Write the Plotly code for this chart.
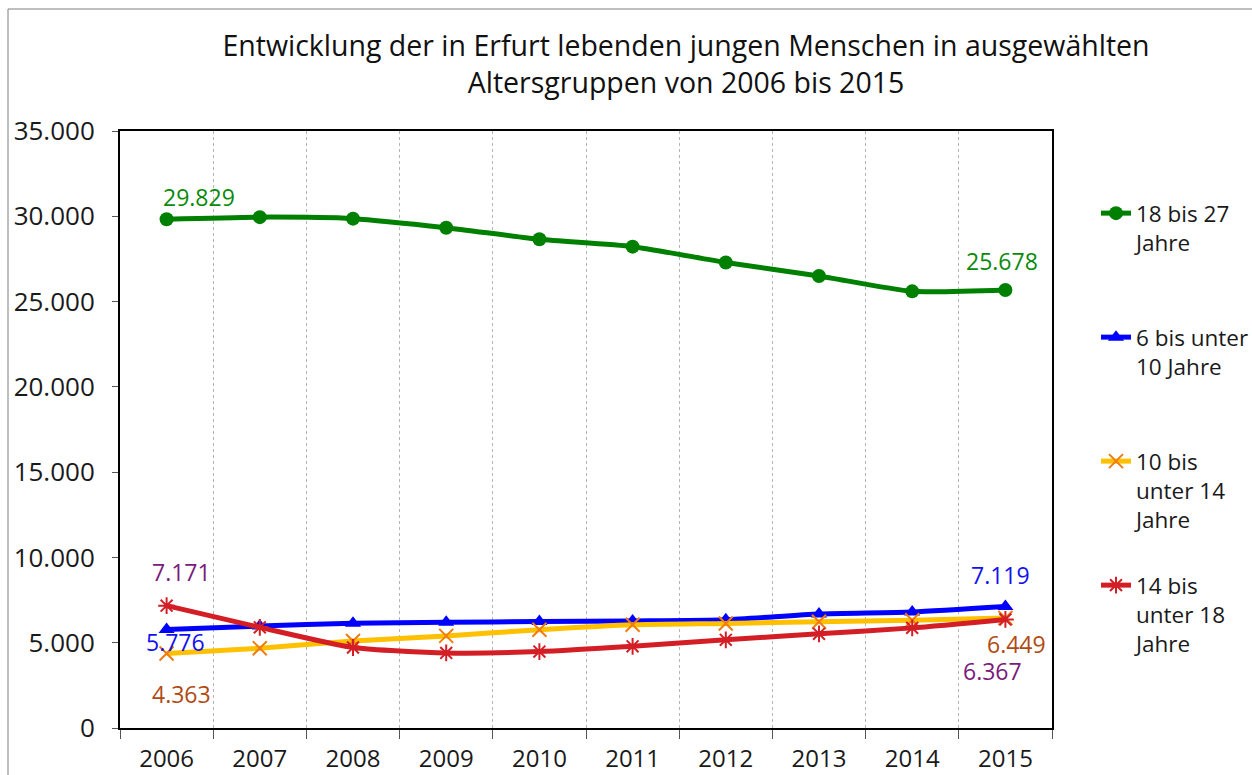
import plotly.graph_objects as go

years = ["2006", "2007", "2008", "2009", "2010", "2011", "2012", "2013", "2014", "2015"]
age_18_27 = [29829, 29950, 29860, 29330, 28650, 28220, 27290, 26500, 25600, 25678]
age_6_10 = [5776, 5980, 6140, 6200, 6240, 6280, 6350, 6680, 6800, 7119]
age_10_14 = [4363, 4680, 5100, 5400, 5760, 6050, 6130, 6230, 6320, 6449]
age_14_18 = [7171, 5900, 4720, 4400, 4480, 4790, 5170, 5520, 5870, 6367]

names = ["18 bis 27<br>Jahre", "6 bis unter<br>10 Jahre", "10 bis<br>unter 14<br>Jahre", "14 bis<br>unter 18<br>Jahre"]

FONT = "Open Sans"

def de(v):
    return f"{v:,}".replace(",", ".")

fig = go.Figure()

fig.add_trace(go.Scatter(
    x=years, y=age_18_27, name=names[0], mode="lines+markers",
    line=dict(color="#008000", width=5, shape="spline", smoothing=0.6),
    marker=dict(symbol="circle", size=14, color="#008000"),
    legend="legend"))
fig.add_trace(go.Scatter(
    x=years, y=age_6_10, name=names[1], mode="lines+markers",
    line=dict(color="#0000FF", width=5, shape="spline", smoothing=0.6),
    marker=dict(symbol="triangle-up", size=14, color="#0000FF"),
    legend="legend2"))
fig.add_trace(go.Scatter(
    x=years, y=age_10_14, name=names[2], mode="lines+markers",
    line=dict(color="#FFC000", width=5, shape="spline", smoothing=0.6),
    marker=dict(symbol="x-thin-open", size=14, color="#F07C10", line=dict(color="#F07C10", width=2)),
    legend="legend3"))
fig.add_trace(go.Scatter(
    x=years, y=age_14_18, name=names[3], mode="lines+markers",
    line=dict(color="#D41E26", width=5, shape="spline", smoothing=0.6),
    marker=dict(symbol="asterisk-open", size=14, color="#D41E26", line=dict(color="#D41E26", width=2)),
    legend="legend4"))

lab_font = dict(family=FONT, size=23)
first, last = 0, len(years) - 1
labels = [
    (first, age_18_27[0], "#0A8A0A", 32, 22),
    (last, age_18_27[-1], "#0A8A0A", -3, 29),
    (last, age_6_10[-1], "#1010F0", -5, 32),
    (first, age_6_10[0], "#1010F0", 9, -13),
    (first, age_14_18[0], "#7A1A7A", 15, 34),
    (first, age_10_14[0], "#B04A14", 15, -40),
    (last, age_10_14[-1], "#B04A14", 11, -26),
    (last, age_14_18[-1], "#7A1A7A", -13, -52),
]
for x, y, c, xs, ys in labels:
    fig.add_annotation(x=x, y=y, xref="x", yref="y", text=de(y), showarrow=False,
                       xshift=xs, yshift=ys, font=dict(lab_font, color=c))

ml, mr, mt, mb = 120, 200, 131, 47
W, H = 1252, 775
pw, ph = W - ml - mr, H - mt - mb

def px(xp):
    return (xp - ml) / pw

def py(yp):
    return (H - mb - yp) / ph

# outer chart border
fig.add_shape(type="rect", xref="paper", yref="paper",
              x0=px(8), x1=px(1262), y0=py(785), y1=py(9),
              line=dict(color="#7f7f7f", width=1), layer="below")

leg_common = dict(font=dict(family=FONT, size=22.5, color="#1a1a1a"),
                  bgcolor="rgba(0,0,0,0)", valign="top",
                  xanchor="left", yanchor="top", x=px(1096))
layout_legends = {}
for key, top in zip(["legend", "legend2", "legend3", "legend4"], [192, 316, 440, 564]):
    layout_legends[key] = dict(leg_common, y=py(top))

fig.update_layout(
    width=W, height=H,
    separators=",.",
    paper_bgcolor="white", plot_bgcolor="white",
    margin=dict(l=ml, r=mr, t=mt, b=mb, autoexpand=False),
    font=dict(family=FONT, color="#1a1a1a"),
    title=dict(text="Entwicklung der in Erfurt lebenden jungen Menschen in ausgewählten<br>Altersgruppen von 2006 bis 2015",
               x=686 / W, xanchor="center", xref="container",
               y=1 - 56 / H, yanchor="top", yref="container",
               font=dict(family=FONT, size=28.5, color="#111111")),
    showlegend=True,
    **layout_legends,
    xaxis=dict(type="category", tickson="boundaries", showgrid=True,
               griddash="dot", gridcolor="#b5b5b5", gridwidth=1,
               showline=True, linecolor="#000000", linewidth=2, mirror=True,
               ticks="outside", ticklen=9, tickcolor="#555555",
               tickfont=dict(family=FONT, size=24, color="#1a1a1a"),
               ticklabelstandoff=8, range=[-0.5, 9.5], automargin=False),
    yaxis=dict(range=[0, 35000], dtick=5000, tickformat=",d",
               showgrid=False, zeroline=False,
               showline=True, linecolor="#000000", linewidth=2, mirror=True,
               ticks="outside", ticklen=6, tickcolor="#555555",
               tickfont=dict(family=FONT, size=26, color="#1a1a1a"),
               ticklabelstandoff=12, automargin=False),
)

fig.write_html("out.html", config={"displayModeBar": False},
               post_script="document.body.style.margin='0';document.body.style.overflow='hidden';")
